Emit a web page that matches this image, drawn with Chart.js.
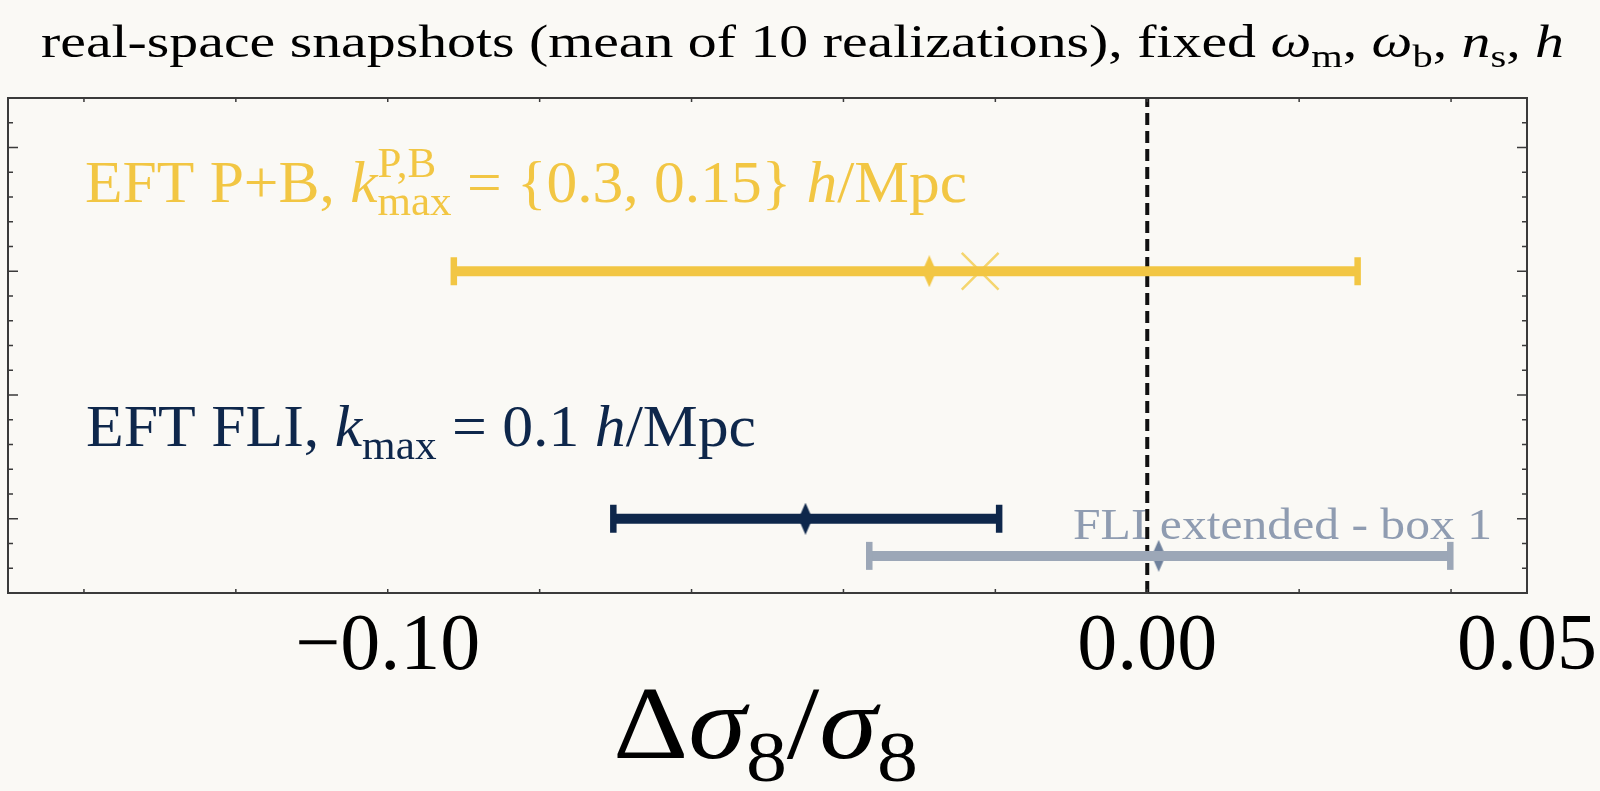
<!DOCTYPE html>
<html>
<head>
<meta charset="utf-8">
<script src="https://cdn.jsdelivr.net/npm/chart.js@4.4.0/dist/chart.umd.min.js"></script>
<style>
  html, body { margin: 0; padding: 0; background: #faf9f5; }
  #wrap { width: 1600px; height: 791px; }
</style>
</head>
<body>
<div id="wrap"><canvas id="grafikSigma8" width="1600" height="791"></canvas></div>
<script>
// axis ranges and ticks
const xMin = -0.15, xMax = 0.05;
const yMin = -0.6, yMax = 3.4;
const xTickValues = [-0.14, -0.12, -0.10, -0.08, -0.06, -0.04, -0.02, 0.00, 0.02, 0.04];
const xLabelValues = [-0.10, 0.00, 0.05];
const xLabelTexts = ['\u22120.10', '0.00', '0.05'];
const yMajorTicks = [0, 1, 2, 3];
const yMinorTicks = [-0.4, -0.2, 0.2, 0.4, 0.6, 0.8, 1.2, 1.4, 1.6, 1.8, 2.2, 2.4, 2.6, 2.8, 3.2];

// series (one row each)
const seriesNames = ['EFT P+B', 'EFT FLI', 'FLI extended - box 1'];
const seriesY    = [2, 0, -0.3];
const seriesLo   = [-0.0913, -0.0703, -0.0366];
const seriesHi   = [0.0277, -0.0195, 0.0399];
const seriesMean = [-0.0287, -0.0450, 0.0015];
const seriesColor = ['#f2c643', '#0e274b', '#9ca7b7'];
const meanColor   = ['#f2c643', '#0e274b', '#6f819c'];
// second estimate on the P+B row (x marker)
const crossX = [-0.0220];
const crossY = [2];
const refLineX = 0;

const SERIF = '"Liberation Serif", "DejaVu Serif", serif';

// texts
const titleRuns = [
  { t: 'real-space snapshots (mean of 10 realizations), fixed ' },
  { t: '\u03c9', it: 1, sub: 'm' }, { t: ', ' },
  { t: '\u03c9', it: 1, sub: 'b' }, { t: ', ' },
  { t: 'n', it: 1, sub: 's' }, { t: ', ' },
  { t: 'h', it: 1 }
];
const pbRuns = [
  { t: 'EFT P+B, ' }, { t: 'k', it: 1, sub: 'max', sup: 'P,B' },
  { t: ' = {0.3, 0.15} ' }, { t: 'h', it: 1 }, { t: '/Mpc' }
];
const fliRuns = [
  { t: 'EFT FLI, ' }, { t: 'k', it: 1, sub: 'max' },
  { t: ' = 0.1 ' }, { t: 'h', it: 1 }, { t: '/Mpc' }
];
const extRuns = [{ t: 'FLI extended - box 1' }];
const xTitleRuns = [
  { t: '\u0394' }, { t: '\u03c3', it: 1, sub: '8' }, { t: '/' }, { t: '\u03c3', it: 1, sub: '8' }
];

function fontStr(size, it) {
  return (it ? 'italic ' : '') + size + 'px ' + SERIF;
}

function runsWidth(ctx, runs, size) {
  let w = 0;
  runs.forEach(r => {
    ctx.font = fontStr(size, r.it);
    w += ctx.measureText(r.t).width;
    let sw = 0;
    ctx.font = fontStr(size * 0.7, false);
    if (r.sub) sw = Math.max(sw, ctx.measureText(r.sub).width);
    if (r.sup) sw = Math.max(sw, ctx.measureText(r.sup).width);
    w += sw;
  });
  return w;
}

// draws runs starting at x, baseline y; stretched horizontally to targetW when given
function drawRuns(ctx, runs, x, y, size, color, targetW) {
  const w = runsWidth(ctx, runs, size);
  const sx = targetW ? targetW / w : 1;
  ctx.save();
  ctx.translate(x, y);
  ctx.scale(sx, 1);
  ctx.fillStyle = color;
  ctx.textBaseline = 'alphabetic';
  ctx.textAlign = 'left';
  let cx = 0;
  runs.forEach(r => {
    ctx.font = fontStr(size, r.it);
    ctx.fillText(r.t, cx, 0);
    cx += ctx.measureText(r.t).width;
    let sw = 0;
    ctx.font = fontStr(size * 0.7, false);
    if (r.sub) {
      ctx.fillText(r.sub, cx, size * 0.22);
      sw = Math.max(sw, ctx.measureText(r.sub).width);
    }
    if (r.sup) {
      ctx.fillText(r.sup, cx, -size * 0.42);
      sw = Math.max(sw, ctx.measureText(r.sup).width);
    }
    cx += sw;
  });
  ctx.restore();
}

function diamondCanvas(color) {
  const c = document.createElement('canvas');
  c.width = 18; c.height = 32;
  const g = c.getContext('2d');
  g.fillStyle = color;
  g.beginPath();
  g.moveTo(9, 0); g.lineTo(16, 16); g.lineTo(9, 32); g.lineTo(2, 16);
  g.closePath();
  g.fill();
  return c;
}

const datasets = [];
seriesNames.forEach((name, i) => {
  datasets.push({
    label: name,
    data: [{ x: seriesLo[i], y: seriesY[i] }, { x: seriesHi[i], y: seriesY[i] }],
    showLine: true,
    borderColor: seriesColor[i],
    borderWidth: 10,
    pointStyle: 'line',
    pointRotation: 90,
    pointRadius: 14,
    pointBorderWidth: 6.5,
    pointBorderColor: seriesColor[i]
  });
  datasets.push({
    label: name + ' mean',
    data: [{ x: seriesMean[i], y: seriesY[i] }],
    showLine: false,
    pointStyle: diamondCanvas(meanColor[i])
  });
});
datasets.push({
  label: 'P+B x',
  data: crossX.map((v, i) => ({ x: v, y: crossY[i] })),
  showLine: false,
  pointStyle: 'crossRot',
  pointRadius: 26,
  pointBorderWidth: 2.5,
  pointBorderColor: '#f5d56e'
});
datasets.push({
  label: 'ref',
  data: [{ x: refLineX, y: yMin }, { x: refLineX, y: yMax }],
  showLine: true,
  borderColor: '#111111',
  borderWidth: 4,
  borderDash: [12, 6],
  pointRadius: 0
});

const framePlugin = {
  id: 'frame',
  beforeDraw(chart) {
    const ctx = chart.ctx;
    ctx.save();
    ctx.fillStyle = '#faf9f5';
    ctx.fillRect(0, 0, chart.width, chart.height);
    ctx.restore();
  },
  beforeDatasetsDraw(chart) {
    const ctx = chart.ctx;
    drawRuns(ctx, pbRuns, 85, 202, 60, seriesColor[0], 882);
    drawRuns(ctx, fliRuns, 86, 446, 60, seriesColor[1], 670);
    drawRuns(ctx, extRuns, 1073, 539, 45, '#8f9cb1', 419);
  },
  afterDatasetsDraw(chart) {
    const ctx = chart.ctx;
    const a = chart.chartArea;
    const xs = chart.scales.x, ys = chart.scales.y;
    ctx.save();
    ctx.strokeStyle = '#3a3a3a';
    ctx.lineWidth = 1.5;
    ctx.beginPath();
    xTickValues.forEach(v => {
      const px = xs.getPixelForValue(v);
      ctx.moveTo(px, a.bottom); ctx.lineTo(px, a.bottom - 4);
      ctx.moveTo(px, a.top); ctx.lineTo(px, a.top + 4);
    });
    yMajorTicks.forEach(v => {
      const py = ys.getPixelForValue(v);
      ctx.moveTo(a.left, py); ctx.lineTo(a.left + 10, py);
      ctx.moveTo(a.right, py); ctx.lineTo(a.right - 10, py);
    });
    yMinorTicks.forEach(v => {
      const py = ys.getPixelForValue(v);
      ctx.moveTo(a.left, py); ctx.lineTo(a.left + 5, py);
      ctx.moveTo(a.right, py); ctx.lineTo(a.right - 5, py);
    });
    ctx.stroke();
    ctx.lineWidth = 2;
    ctx.strokeRect(a.left, a.top, a.right - a.left, a.bottom - a.top);
    ctx.restore();

    // tick labels
    ctx.save();
    ctx.fillStyle = '#000';
    ctx.font = fontStr(80, false);
    xLabelValues.forEach((v, i) => {
      const w = ctx.measureText(xLabelTexts[i]).width;
      const px = xs.getPixelForValue(v);
      ctx.fillText(xLabelTexts[i], px - w / 2, 669);
    });
    ctx.restore();

    drawRuns(ctx, xTitleRuns, 613, 758, 104, '#000', 305);
    drawRuns(ctx, titleRuns, 41, 57, 46, '#000', 1523);
  }
};

new Chart(document.getElementById('grafikSigma8'), {
  type: 'scatter',
  data: { datasets: datasets },
  options: {
    responsive: false,
    animation: false,
    devicePixelRatio: 1,
    layout: { autoPadding: false, padding: { left: 8, right: 73, top: 98, bottom: 198 } },
    plugins: { legend: { display: false }, tooltip: { enabled: false } },
    scales: {
      x: { type: 'linear', min: xMin, max: xMax, display: false },
      y: { type: 'linear', min: yMin, max: yMax, display: false }
    }
  },
  plugins: [framePlugin]
});
</script>
</body>
</html>
